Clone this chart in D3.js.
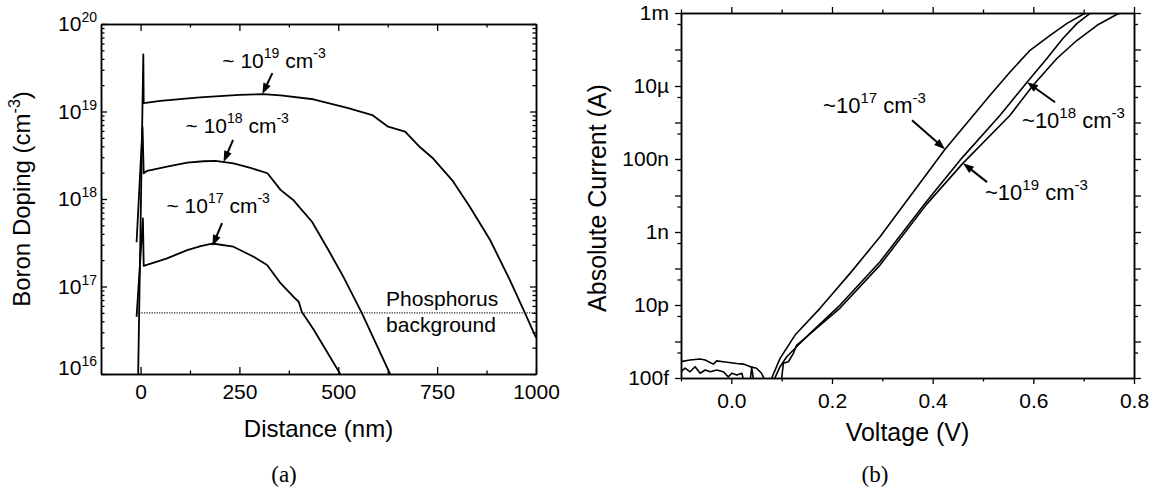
<!DOCTYPE html>
<html>
<head>
<meta charset="utf-8">
<script src="https://cdn.jsdelivr.net/npm/d3@7"></script>
<style>
  body { margin: 0; background: #fff; }
  svg { display: block; font-family: "Liberation Sans", Arial, sans-serif; }
</style>
</head>
<body>
<svg id="fig" width="1167" height="499"></svg>
<script>
// ---------- (a) Boron doping profiles: [depth (nm), concentration (cm^-3)] ----------
const profile1e19 = [
  [-6, 1.0e16], [7, 4.5e19], [8, 1.25e19], [50, 1.32e19], [150, 1.45e19], [250, 1.55e19],
  [310, 1.58e19], [354, 1.53e19], [437, 1.38e19], [523, 1.1e19], [586, 9.1e18],
  [626, 6.7e18], [669, 5.9e18], [707, 3.9e18], [740, 2.9e18], [765, 2.15e18],
  [790, 1.6e18], [833, 8.1e17], [884, 3.4e17], [934, 1.18e17], [972, 5.0e16], [1000, 2.6e16]
];
const profile1e18 = [
  [-10, 3.2e17], [5, 6.7e18], [8, 1.97e18], [17, 2.1e18], [67, 2.34e18], [118, 2.6e18],
  [159, 2.7e18], [189, 2.72e18], [235, 2.56e18], [278, 2.27e18], [321, 1.97e18],
  [354, 1.27e18], [386, 9.75e17], [434, 5.46e17], [475, 2.61e17], [513, 1.29e17],
  [560, 4.94e16], [631, 1.0e16]
];
const profile1e17 = [
  [-10, 4.5e16], [6, 6.0e17], [8, 1.72e17], [67, 2.1e17], [118, 2.6e17], [152, 2.9e17],
  [181, 3.1e17], [235, 2.85e17], [286, 2.19e17], [320, 1.76e17], [354, 1.09e17],
  [387, 7.6e16], [400, 6.7e16], [408, 5.1e16], [438, 3.2e16], [505, 1.0e16]
];
const phosphorusLevel = 5e16;
const phosphorusSpan = [-10, 1000];
const depthTicks = [0, 250, 500, 750, 1000];
const depthMinorTicks = [125, 375, 625, 875];
const dopingTicks = [1e16, 1e17, 1e18, 1e19, 1e20];
const dopingMinorTicks = [16, 17, 18, 19].flatMap(e => [2, 3, 4, 5, 6, 7, 8, 9].map(m => m * Math.pow(10, e)));
const profileLabels = [
  { base: "~ 10", exp: "19", depth: 308, level: 1.58e19 },
  { base: "~ 10", exp: "18", depth: 210, level: 2.65e18 },
  { base: "~ 10", exp: "17", depth: 182, level: 2.9e17 }
];

// ---------- (b) Current-voltage sweeps: [voltage (V), |current| (A)] ----------
const iv1e17 = [
  [-0.1, 2.8e-13], [-0.082, 3.1e-13], [-0.062, 3.3e-13], [-0.052, 3.1e-13], [-0.036, 2.4e-13],
  [-0.029, 2.95e-13], [-0.016, 2.8e-13], [0.011, 2.5e-13], [0.024, 2.4e-13], [0.037, 2.05e-13],
  [0.050, 1.85e-13], [0.060, 1.35e-13], [0.066, 0.9e-13], [0.072, 0.6e-13],
  [0.0803, 1.0e-13], [0.0968, 3.46e-13], [0.1266, 1.5e-12], [0.1762, 8.1e-12],
  [0.2358, 7.35e-11], [0.2954, 7.4e-10], [0.4246, 1.86e-7], [0.514, 5.6e-6],
  [0.5538, 2.43e-5], [0.5935, 9.5e-5], [0.6333, 2.45e-4], [0.667, 5.2e-4],
  [0.699, 9.2e-4], [0.705, 1e-3], [0.8, 1e-3]
];
const iv1e18 = [
  [-0.1, 1.48e-13], [-0.092, 1.86e-13], [-0.082, 1.48e-13], [-0.072, 2.04e-13], [-0.062, 1.35e-13],
  [-0.052, 1.66e-13], [-0.042, 1.48e-13], [-0.029, 1.66e-13], [-0.016, 1.48e-13],
  [-0.006, 1.07e-13], [0.001, 1.35e-13], [0.011, 1.2e-13], [0.021, 1.35e-13],
  [0.024, 0.9e-13], [0.03, 0.6e-13], [0.08, 0.6e-13],
  [0.0864, 1.0e-13], [0.0968, 2.04e-13], [0.1101, 3.83e-13], [0.1331, 8.0e-13],
  [0.1564, 1.67e-12], [0.216, 9.95e-12], [0.2954, 1.53e-10], [0.3882, 7.0e-9],
  [0.4544, 9.3e-8], [0.5339, 1.58e-6], [0.5875, 1.27e-5], [0.6273, 5.75e-5],
  [0.6591, 2.03e-4], [0.6869, 5.2e-4], [0.7127, 9.8e-4], [0.716, 1e-3], [0.8, 1e-3]
];
const iv1e19 = [
  [-0.1, 0.6e-13], [0.036, 0.6e-13], [0.0405, 1.9e-13], [0.046, 0.6e-13], [0.095, 0.6e-13],
  [0.1001, 1.0e-13], [0.1033, 2.52e-13], [0.1133, 2.79e-13], [0.1232, 4.74e-13],
  [0.1299, 8.0e-13], [0.1498, 1.35e-12], [0.216, 8.24e-12], [0.2954, 1.24e-10],
  [0.3882, 5.8e-9], [0.4603, 7.7e-8], [0.5538, 1.58e-6], [0.5995, 1.05e-5],
  [0.6472, 5.75e-5], [0.6869, 1.79e-4], [0.7266, 4.6e-4], [0.7664, 9.2e-4],
  [0.775, 1e-3], [0.8, 1e-3]
];
const voltageTicks = [0.0, 0.2, 0.4, 0.6, 0.8];
const voltageMinorTicks = [-0.1, 0.1, 0.3, 0.5, 0.7];
const currentTicks = [1e-3, 1e-4, 1e-5, 1e-6, 1e-7, 1e-8, 1e-9, 1e-10, 1e-11, 1e-12, 1e-13];
const currentMinorTicks = [5e-4, 5e-5, 5e-6, 5e-7, 5e-8, 5e-9, 5e-10, 5e-11, 5e-12, 5e-13];
const currentTickLabels = ["1m", "", "10\u00b5", "", "100n", "", "1n", "", "10p", "", "100f"];
const ivLabels = [
  { base: "~10", exp: "17", voltage: 0.4246, current: 1.86e-7 },
  { base: "~10", exp: "18", voltage: 0.5875, current: 1.27e-5 },
  { base: "~10", exp: "19", voltage: 0.4603, current: 7.7e-8 }
];

// ---------- drawing ----------
const svg = d3.select("#fig");
const ink = "#000";
const tickFont = 21;

function styleAxis(g) {
  g.attr("font-family", null).attr("font-size", tickFont);
  g.selectAll("path.domain").attr("stroke", ink).attr("stroke-width", 1.5);
  g.selectAll(".tick line").attr("stroke", ink).attr("stroke-width", 1.3);
  g.selectAll(".tick text").attr("fill", ink);
}

function arrowTo(g, tip, tail) {
  const dx = tip[0] - tail[0], dy = tip[1] - tail[1];
  const len = Math.hypot(dx, dy);
  const end = [tip[0] - dx / len * 6, tip[1] - dy / len * 6];
  g.append("line")
    .attr("x1", tail[0]).attr("y1", tail[1])
    .attr("x2", end[0]).attr("y2", end[1])
    .attr("stroke", ink).attr("stroke-width", 2);
  g.append("path")
    .attr("d", "M0,0 L-11,-4 L-11,4 Z")
    .attr("fill", ink)
    .attr("transform", `translate(${tip[0]},${tip[1]}) rotate(${Math.atan2(dy, dx) * 180 / Math.PI})`);
}

function concLabel(g, x, y, base, exp, size, supSize) {
  const t = g.append("text").attr("x", x).attr("y", y).attr("font-size", size).attr("fill", ink);
  t.append("tspan").text(base);
  t.append("tspan").attr("dy", -10).attr("font-size", supSize).text(exp);
  t.append("tspan").attr("dy", 10).text(" cm");
  t.append("tspan").attr("dy", -10).attr("font-size", supSize).text("-3");
}

// ===== Panel (a) =====
const A = { left: 101, right: 536, top: 24, bottom: 374 };
const xA = d3.scaleLinear().domain([-100, 1000]).range([A.left, A.right]);
const yA = d3.scaleLog().domain([1e16, 1e20]).range([A.bottom, A.top]);
const gA = svg.append("g");

gA.append("clipPath").attr("id", "clipA").append("rect")
  .attr("x", A.left).attr("y", A.top).attr("width", A.right - A.left).attr("height", A.bottom - A.top);

// background level
gA.append("line")
  .attr("x1", xA(phosphorusSpan[0])).attr("x2", xA(phosphorusSpan[1]))
  .attr("y1", yA(phosphorusLevel)).attr("y2", yA(phosphorusLevel))
  .attr("stroke", "#222").attr("stroke-width", 1.2).attr("stroke-dasharray", "1.2,1.3");

const lineA = d3.line().x(d => xA(d[0])).y(d => yA(d[1]));
gA.append("g").attr("clip-path", "url(#clipA)")
  .selectAll("path").data([profile1e19, profile1e18, profile1e17]).join("path")
  .attr("d", lineA).attr("fill", "none").attr("stroke", ink)
  .attr("stroke-width", 1.8).attr("stroke-linejoin", "round");

// axes (ticks point inward)
gA.append("g").attr("transform", `translate(0,${A.bottom})`)
  .call(d3.axisBottom(xA).tickValues(depthTicks).tickSize(-7).tickSizeOuter(0).tickPadding(10).tickFormat(d3.format("d")))
  .call(styleAxis);
gA.append("g").attr("transform", `translate(0,${A.bottom})`)
  .call(d3.axisBottom(xA).tickValues(depthMinorTicks).tickSize(-3.5).tickSizeOuter(0).tickFormat(""))
  .call(styleAxis);
gA.append("g").attr("transform", `translate(0,${A.top})`)
  .call(d3.axisTop(xA).tickValues(depthTicks).tickSize(-7).tickSizeOuter(0).tickFormat(""))
  .call(styleAxis);
gA.append("g").attr("transform", `translate(0,${A.top})`)
  .call(d3.axisTop(xA).tickValues(depthMinorTicks).tickSize(-3.5).tickSizeOuter(0).tickFormat(""))
  .call(styleAxis);

gA.append("g").attr("transform", `translate(${A.left},0)`)
  .call(d3.axisLeft(yA).tickValues(dopingTicks).tickSize(-6).tickSizeOuter(0).tickPadding(4))
  .call(styleAxis)
  .call(g => g.selectAll(".tick text").each(function (d) {
    const t = d3.select(this).text(null);
    if (d === 1e16) t.attr("dy", "0.02em");
    t.append("tspan").text("10");
    t.append("tspan").attr("dy", -9).attr("font-size", 14).text(Math.round(Math.log10(d)));
  }));
gA.append("g").attr("transform", `translate(${A.left},0)`)
  .call(d3.axisLeft(yA).tickValues(dopingMinorTicks).tickSize(-3.5).tickSizeOuter(0).tickFormat(""))
  .call(styleAxis);
gA.append("g").attr("transform", `translate(${A.right},0)`)
  .call(d3.axisRight(yA).tickValues(dopingTicks).tickSize(-6).tickSizeOuter(0).tickFormat(""))
  .call(styleAxis);
gA.append("g").attr("transform", `translate(${A.right},0)`)
  .call(d3.axisRight(yA).tickValues(dopingMinorTicks).tickSize(-3.5).tickSizeOuter(0).tickFormat(""))
  .call(styleAxis);

// titles
gA.append("text")
  .attr("x", (A.left + A.right) / 2).attr("y", 437)
  .attr("text-anchor", "middle").attr("font-size", 24).attr("fill", ink)
  .text("Distance (nm)");
const yTitleA = gA.append("text")
  .attr("transform", `translate(30,${(A.top + A.bottom) / 2}) rotate(-90)`)
  .attr("text-anchor", "middle").attr("font-size", 24).attr("fill", ink);
yTitleA.append("tspan").text("Boron Doping (cm");
yTitleA.append("tspan").attr("dy", -10).attr("font-size", 16).text("-3");
yTitleA.append("tspan").attr("dy", 10).text(")");

// annotations
const bgLabel = gA.append("text").attr("font-size", 21).attr("fill", ink);
bgLabel.append("tspan").attr("x", xA(621)).attr("y", yA(phosphorusLevel) - 7).text("Phosphorus");
bgLabel.append("tspan").attr("x", xA(621)).attr("y", yA(phosphorusLevel) + 19).text("background");

const offsetsA = [
  { text: [-40, -26], tail: [10, -21] },
  { text: [-38, -29], tail: [9.5, -22] },
  { text: [-46, -33], tail: [9.5, -23] }
];
profileLabels.forEach((lab, i) => {
  const tip = [xA(lab.depth), yA(lab.level)];
  const o = offsetsA[i];
  arrowTo(gA, tip, [tip[0] + o.tail[0], tip[1] + o.tail[1]]);
  concLabel(gA, tip[0] + o.text[0], tip[1] + o.text[1], lab.base, lab.exp, 21, 14);
});

svg.append("text")
  .attr("x", 284).attr("y", 482).attr("text-anchor", "middle")
  .attr("font-family", "'Liberation Serif', 'DejaVu Serif', serif").attr("font-size", 23)
  .attr("fill", ink).text("(a)");

// ===== Panel (b) =====
const B = { left: 681, right: 1134, top: 13, bottom: 378 };
const xB = d3.scaleLinear().domain([-0.1, 0.8]).range([B.left, B.right]);
const yB = d3.scaleLog().domain([1e-13, 1e-3]).range([B.bottom, B.top]);
const gB = svg.append("g");

gB.append("clipPath").attr("id", "clipB").append("rect")
  .attr("x", B.left).attr("y", B.top).attr("width", B.right - B.left).attr("height", B.bottom - B.top);

const lineB = d3.line().x(d => xB(d[0])).y(d => yB(d[1]));
gB.append("g").attr("clip-path", "url(#clipB)")
  .selectAll("path").data([iv1e17, iv1e18, iv1e19]).join("path")
  .attr("d", lineB).attr("fill", "none").attr("stroke", ink)
  .attr("stroke-width", 1.6).attr("stroke-linejoin", "round");

// axes (ticks point outward)
gB.append("g").attr("transform", `translate(0,${B.bottom})`)
  .call(d3.axisBottom(xB).tickValues(voltageTicks).tickSize(6).tickSizeOuter(0).tickPadding(9).tickFormat(d3.format(".1f")))
  .call(styleAxis);
gB.append("g").attr("transform", `translate(0,${B.bottom})`)
  .call(d3.axisBottom(xB).tickValues(voltageMinorTicks).tickSize(3.5).tickSizeOuter(0).tickFormat(""))
  .call(styleAxis);
gB.append("g").attr("transform", `translate(0,${B.top})`)
  .call(d3.axisTop(xB).tickValues(voltageTicks).tickSize(6).tickSizeOuter(0).tickFormat(""))
  .call(styleAxis);
gB.append("g").attr("transform", `translate(0,${B.top})`)
  .call(d3.axisTop(xB).tickValues(voltageMinorTicks).tickSize(3.5).tickSizeOuter(0).tickFormat(""))
  .call(styleAxis);

gB.append("g").attr("transform", `translate(${B.left},0)`)
  .call(d3.axisLeft(yB).tickValues(currentTicks).tickSize(6).tickSizeOuter(0).tickPadding(6)
    .tickFormat((d, i) => currentTickLabels[i]))
  .call(styleAxis);
gB.append("g").attr("transform", `translate(${B.left},0)`)
  .call(d3.axisLeft(yB).tickValues(currentMinorTicks).tickSize(3.5).tickSizeOuter(0).tickFormat(""))
  .call(styleAxis);
gB.append("g").attr("transform", `translate(${B.right},0)`)
  .call(d3.axisRight(yB).tickValues(currentTicks).tickSize(7).tickSizeOuter(0).tickFormat(""))
  .call(styleAxis);
gB.append("g").attr("transform", `translate(${B.right},0)`)
  .call(d3.axisRight(yB).tickValues(currentMinorTicks).tickSize(4).tickSizeOuter(0).tickFormat(""))
  .call(styleAxis);

gB.append("text")
  .attr("x", (B.left + B.right) / 2).attr("y", 441)
  .attr("text-anchor", "middle").attr("font-size", 25).attr("fill", ink)
  .text("Voltage (V)");
gB.append("text")
  .attr("transform", `translate(606,198) rotate(-90)`)
  .attr("text-anchor", "middle").attr("font-size", 25).attr("fill", ink)
  .text("Absolute Current (A)");

const offsetsB = [
  { text: [-122, -36], tail: [-33, -29] },
  { text: [-5, 46], tail: [28, 20] },
  { text: [22, 37], tail: [24, 19] }
];
ivLabels.forEach((lab, i) => {
  const tip = [xB(lab.voltage), yB(lab.current)];
  const o = offsetsB[i];
  arrowTo(gB, tip, [tip[0] + o.tail[0], tip[1] + o.tail[1]]);
  concLabel(gB, tip[0] + o.text[0], tip[1] + o.text[1], lab.base, lab.exp, 22, 15);
});

svg.append("text")
  .attr("x", 875).attr("y", 482).attr("text-anchor", "middle")
  .attr("font-family", "'Liberation Serif', 'DejaVu Serif', serif").attr("font-size", 23)
  .attr("fill", ink).text("(b)");
</script>
</body>
</html>
